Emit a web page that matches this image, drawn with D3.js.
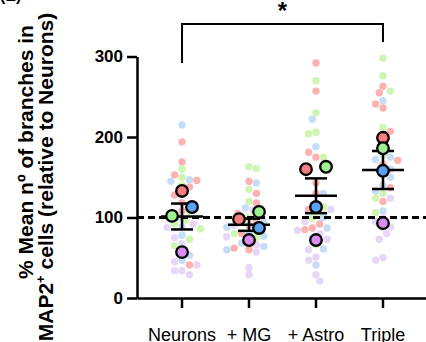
<!DOCTYPE html>
<html>
<head>
<meta charset="utf-8">
<script src="https://cdn.jsdelivr.net/npm/d3@7"></script>
<style>
  body { margin: 0; background: #fff; }
  svg { display: block; font-family: "Liberation Sans", Arial, sans-serif; }
</style>
</head>
<body>
<svg id="chart" width="426" height="342"></svg>
<script>
// Categories and ticks.
const groups = ["Neurons", "+ MG", "+ Astro", "Triple"];
const yTicks = [0, 100, 200, 300];
const replicates = ["red", "green", "blue", "purple"];

// Single-cell values per replicate, one inner array per group.
const cellsRed = [
  [194, 169, 153, 146, 138, 128, 118, 108, 41],
  [145, 130, 118, 105, 95, 90, 80, 62, 60],
  [292, 257, 181, 175, 143, 130, 110, 92, 87, 85],
  [263, 255, 241, 236, 207, 171, 166, 137, 120]
];
const cellsGreen = [
  [160, 150, 140, 108, 97, 92, 86, 73, 65],
  [163, 161, 135, 120, 100, 95, 84, 80, 75],
  [270, 230, 206, 204, 175, 113, 107, 99, 66],
  [298, 276, 257, 212, 178, 130, 124, 106, 88]
];
const cellsBlue = [
  [215, 147, 145, 130, 100, 88, 78, 53, 47],
  [143, 112, 95, 88, 81, 77, 68, 64, 60],
  [222, 188, 130, 116, 100, 87, 74, 61, 41],
  [245, 175, 172, 160, 155, 150, 140, 133, 108]
];
const cellsPurple = [
  [92, 88, 75, 67, 56, 45, 41, 34, 34, 29],
  [109, 105, 90, 76, 70, 66, 57, 38, 29],
  [110, 95, 84, 80, 73, 60, 51, 47, 29, 21],
  [124, 99, 95, 88, 80, 73, 50, 47]
];

// Replicate means (big outlined dots), ordered like groups.
const meansRed = [133, 98, 160, 199];
const meansGreen = [102, 107, 163, 186];
const meansBlue = [113, 87, 113, 158];
const meansPurple = [57, 72, 72, 93];

const colors = {
  red:    { light: "#fdb2b2", dark: "#f87e7e" },
  green:  { light: "#cff5b2", dark: "#9ef291" },
  blue:   { light: "#c6ddf7", dark: "#5aa2f2" },
  purple: { light: "#e7d6f8", dark: "#da8cf0" }
};

const cells = { red: cellsRed, green: cellsGreen, blue: cellsBlue, purple: cellsPurple };
const means = { red: meansRed, green: meansGreen, blue: meansBlue, purple: meansPurple };

const svg = d3.select("#chart");

// Scales.
const x = d3.scaleBand().domain(groups).range([137, 428]).paddingInner(0).paddingOuter(0.172);
const y = d3.scaleLinear().domain([0, 300]).range([298, 56.5]);
const cx = g => x(g) + x.bandwidth() / 2;

// Small dots, laid out as a simple beeswarm.
const rSmall = 3.7;
groups.forEach((g, gi) => {
  const pts = [];
  replicates.forEach(rep => cells[rep][gi].forEach(v => pts.push({ rep, v })));
  pts.sort((a, b) => d3.descending(a.v, b.v));
  const placed = [];
  pts.forEach((p, i) => {
    const py = y(p.v);
    for (let k = 0; k < 40; k++) {
      const offs = k === 0 ? [0] : (i % 2 ? [k, -k] : [-k, k]);
      let ok = false;
      for (const o of offs) {
        const px = cx(g) + o * rSmall;
        if (placed.every(q => Math.hypot(q.x - px, q.y - py) >= 2 * rSmall - 0.4)) {
          p.x = px; p.y = py; ok = true; break;
        }
      }
      if (ok) break;
    }
    placed.push(p);
  });
  svg.append("g").selectAll("circle").data(placed).enter().append("circle")
    .attr("cx", d => d.x).attr("cy", d => d.y).attr("r", rSmall)
    .attr("fill", d => colors[d.rep].light);
});

// Dashed reference line at 100 %.
svg.append("line")
  .attr("x1", 137).attr("x2", 426)
  .attr("y1", y(100)).attr("y2", y(100))
  .attr("stroke", "#000").attr("stroke-width", 3).attr("stroke-dasharray", "7,4");

// Mean +/- SEM from replicate means.
const stats = groups.map((g, gi) => {
  const vals = replicates.map(rep => means[rep][gi]);
  const m = d3.mean(vals);
  const sem = d3.deviation(vals) / Math.sqrt(vals.length);
  return { g, m, sem };
});
const eb = svg.append("g").attr("stroke", "#000").attr("stroke-width", 2.5);
stats.forEach(s => {
  const c = cx(s.g);
  eb.append("line").attr("x1", c - 21).attr("x2", c + 21).attr("y1", y(s.m)).attr("y2", y(s.m));
  eb.append("line").attr("x1", c).attr("x2", c).attr("y1", y(s.m - s.sem)).attr("y2", y(s.m + s.sem));
  eb.append("line").attr("x1", c - 11).attr("x2", c + 11).attr("y1", y(s.m + s.sem)).attr("y2", y(s.m + s.sem));
  eb.append("line").attr("x1", c - 11).attr("x2", c + 11).attr("y1", y(s.m - s.sem)).attr("y2", y(s.m - s.sem));
});

// Big replicate dots: walk from top to bottom, split neighbours that would overlap.
const rBig = 5.8;
groups.forEach((g, gi) => {
  const pts = replicates.map(rep => ({ rep, v: means[rep][gi], off: 0 }));
  const sorted = pts.slice().sort((a, b) => d3.descending(a.v, b.v));
  sorted.forEach((p, i) => {
    const prev = sorted[i - 1];
    if (prev && Math.abs(y(prev.v) - y(p.v)) < 10) {
      if (prev.off === 0) { prev.off = 10; p.off = -10; }
      else p.off = -prev.off;
    }
  });
  svg.append("g").selectAll("circle").data(pts).enter().append("circle")
    .attr("cx", d => cx(g) + d.off).attr("cy", d => y(d.v)).attr("r", rBig)
    .attr("fill", d => colors[d.rep].dark)
    .attr("stroke", "#000").attr("stroke-width", 2.3);
});

// Y axis.
const yAxis = svg.append("g")
  .attr("transform", "translate(137,0)")
  .call(d3.axisLeft(y).tickValues(yTicks).tickSize(10).tickPadding(4).tickSizeOuter(0));
yAxis.selectAll("path, line").attr("stroke", "#000").attr("stroke-width", 2.5);
yAxis.selectAll("text").attr("fill", "#000").attr("font-size", 17).attr("font-weight", "bold")
  .attr("font-family", "Liberation Sans, Arial, sans-serif");

// X axis.
const xAxis = svg.append("g")
  .attr("transform", "translate(0,298)")
  .call(d3.axisBottom(x).tickSize(10).tickPadding(20).tickSizeOuter(0));
xAxis.selectAll("path, line").attr("stroke", "#000").attr("stroke-width", 2.5);
xAxis.selectAll("text").attr("fill", "#000").attr("font-size", 18)
  .attr("font-family", "Liberation Sans, Arial, sans-serif");

// Y axis title, two lines.
svg.append("text").attr("transform", "translate(33,152) rotate(-90)")
  .attr("text-anchor", "middle").attr("font-size", 21).attr("font-weight", "bold")
  .text("% Mean nº of branches in");
const t2 = svg.append("text").attr("transform", "translate(53,177) rotate(-90)")
  .attr("text-anchor", "middle").attr("font-size", 21).attr("font-weight", "bold");
t2.append("tspan").text("MAP2");
t2.append("tspan").attr("font-size", 13).attr("dy", -8).text("+");
t2.append("tspan").attr("dy", 8).text(" cells (relative to Neurons)");

// Significance bracket.
const br = svg.append("g").attr("fill", "none").attr("stroke", "#000").attr("stroke-width", 2);
br.append("path").attr("d", `M${cx("Neurons")},63V24H${cx("Triple")}V42`);
svg.append("text").attr("x", (cx("Neurons") + cx("Triple")) / 2).attr("y", 19)
  .attr("text-anchor", "middle").attr("font-size", 24).attr("font-weight", "bold").text("*");

// Cut-off panel letter at the top edge.
svg.append("text").attr("x", 0).attr("y", 1).attr("font-size", 16).attr("font-weight", "bold").text("(E)");
</script>
</body>
</html>
